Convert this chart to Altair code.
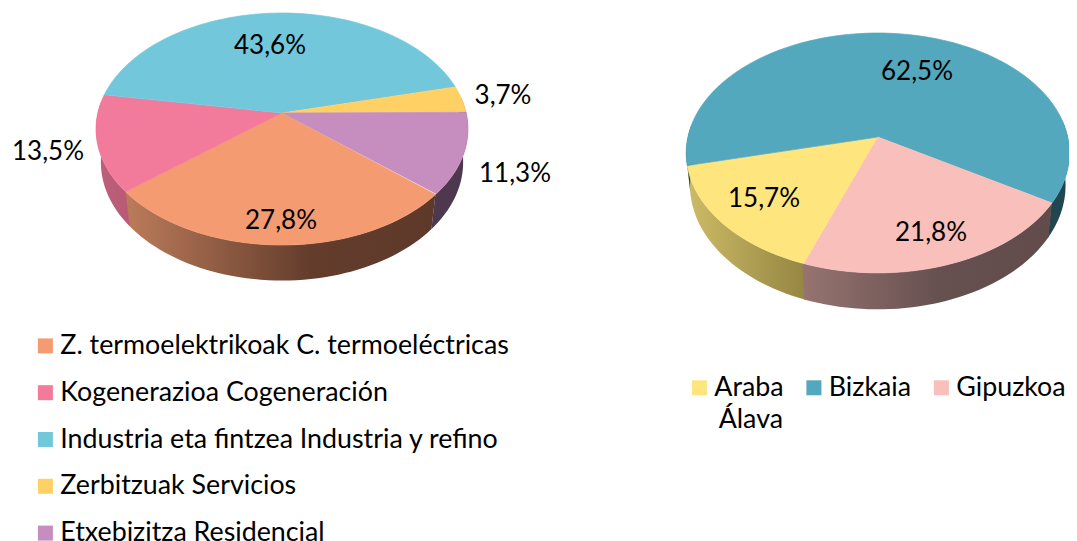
import math
import altair as alt
import pandas as pd

# ---- chart values ----
left_names = ["Z. termoelektrikoak C. termoeléctricas", "Kogenerazioa Cogeneración",
              "Industria eta fintzea Industria y refino", "Zerbitzuak Servicios", "Etxebizitza Residencial"]
left_values = [27.8, 13.5, 43.6, 3.7, 11.3]
left_text = ["27,8%", "13,5%", "43,6%", "3,7%", "11,3%"]
left_colors = ["#F49B72", "#F27A9B", "#72C7DA", "#FFD064", "#C58EBF"]

right_names = ["Araba Álava", "Bizkaia", "Gipuzkoa"]
right_values = [15.7, 62.5, 21.8]
right_text = ["15,7%", "62,5%", "21,8%"]
right_colors = ["#FFE57D", "#53A8BD", "#F8BFBB"]

# ---- layout (reference pixels) ----
W, H = 1061, 533
FONT = "Lato"
left_geo = dict(ax=282, ay=113, A=184.2, B=113.8, k=0.138, s=0.974, d0=33.0, d1=35.5, start=130.7)
right_geo = dict(ax=877.8, ay=137, A=189.9, B=117.8, k=0.133, s=0.98, d0=32.0, d1=36.5, start=199.9)
left_label_xy = [(281, 221), (48, 152), (270, 46), (503, 96), (515, 174)]
right_label_xy = [(764, 199), (917, 72), (931, 233)]
left_sides = [
    [(0, "#BC7C5B"), (0.6, "#633C2C"), (1, "#5E392A")],
    [(0, "#BE5F7C"), (1, "#B85A76")],
    None,
    [(0, "#4E384E"), (1, "#4E384E")],
    [(0, "#4E384E"), (1, "#4E384E")],
]
right_sides = [
    [(0, "#CDBB66"), (1, "#958642")],
    [(0, "#214650"), (1, "#214650")],
    [(0, "#967470"), (0.55, "#665050"), (1, "#614C4B")],
]

XS = alt.Scale(domain=[8, 8 + W], range=[0, W], nice=False, zero=False)
YS = alt.Scale(domain=[8 + H, 8], range=[H, 0], nice=False, zero=False)


def rim(theta_deg, g, bottom=False):
    t = math.radians(theta_deg)
    u, v = math.cos(t), math.sin(t)
    w = 1 - g["k"] * v
    x = g["A"] * u / w
    y = g["ay"] + g["B"] * v / w
    if not bottom:
        return g["ax"] + x, y
    top_span = g["B"] / (1 - g["k"])
    d = g["d0"] + (g["d1"] - g["d0"]) * max(0.0, (y - g["ay"]) / top_span)
    return g["ax"] + x * g["s"], y + d


def steps(a, b):
    n = max(2, int(abs(b - a) / 2) + 2)
    return [a + (b - a) * i / (n - 1) for i in range(n)]


def pie(names, values, colors, geo, side_stops, label_xy, labels, legend):
    top_rows, side_layers = [], []
    angle = geo["start"] - 90
    for name, value, stops in zip(names, values, side_stops):
        end = angle + value * 3.6
        pts = [(geo["ax"], geo["ay"])] + [rim(t, geo) for t in steps(angle, end)]
        top_rows += [dict(name=name, x=p[0], y=p[1], o=i) for i, p in enumerate(pts)]
        # visible parts of the side wall
        for shift in (-360, 0, 360):
            lo, hi = max(angle + shift, -8), min(end + shift + 0.4, 186)
            if hi <= lo or not stops:
                continue
            wall = [rim(t, geo) for t in steps(lo, hi)] + [rim(t, geo, True) for t in steps(hi, lo)]
            side = pd.DataFrame([dict(x=p[0], y=p[1], o=i) for i, p in enumerate(wall)])
            grad = alt.LinearGradient(gradient="linear", x1=0, x2=1, y1=0, y2=0,
                                      stops=[alt.GradientStop(offset=o, color=c) for o, c in stops])
            side_layers.append(
                alt.Chart(side).mark_line(fill=grad, strokeWidth=0, strokeOpacity=0, interpolate="linear").encode(
                    x=alt.X("x:Q", scale=XS, axis=None),
                    y=alt.Y("y:Q", scale=YS, axis=None),
                    order="o:Q",
                )
            )
        angle = end
    color_scale = alt.Scale(domain=names, range=colors)
    tops = alt.Chart(pd.DataFrame(top_rows)).mark_line(strokeWidth=0.7, interpolate="linear").encode(
        x=alt.X("x:Q", scale=XS, axis=None),
        y=alt.Y("y:Q", scale=YS, axis=None),
        order="o:Q",
        fill=alt.Fill("name:N", scale=color_scale, sort=None, legend=legend),
        stroke=alt.Stroke("name:N", scale=color_scale, sort=None, legend=None),
    )
    text = alt.Chart(pd.DataFrame([dict(x=p[0], y=p[1], t=t) for p, t in zip(label_xy, labels)])).mark_text(
        font=FONT, fontSize=LABEL_SIZE, color="black", align="center", baseline="middle"
    ).encode(
        x=alt.X("x:Q", scale=XS, axis=None),
        y=alt.Y("y:Q", scale=YS, axis=None),
        text="t:N",
    )
    return alt.layer(*side_layers, tops, text)


LABEL_SIZE = 26
LEGEND_SIZE = 26.8
LEG = dict(title=None, orient="none", symbolType="square", symbolSize=225, symbolStrokeWidth=0,
           labelFont=FONT, labelFontSize=LEGEND_SIZE, labelColor="black", labelLimit=600, labelOffset=1.5, padding=0)

left_legend = alt.Legend(legendX=24, legendY=324.5, columns=1, rowPadding=18.8, **LEG)
right_legend = alt.Legend(legendX=678, legendY=366, columns=3, columnPadding=16.5,
                          labelExpr="split(datum.label,' ')[0]", **LEG)

left = pie(left_names, left_values, left_colors, left_geo, left_sides, left_label_xy, left_text, left_legend)
right = pie(right_names, right_values, right_colors, right_geo, right_sides, right_label_xy, right_text, right_legend)

second_line = alt.Chart(pd.DataFrame([dict(x=783, y=420, t=right_names[0].split(" ")[1])])).mark_text(
    font=FONT, fontSize=LEGEND_SIZE, color="black", align="right", baseline="middle"
).encode(x=alt.X("x:Q", scale=XS, axis=None), y=alt.Y("y:Q", scale=YS, axis=None), text="t:N")

chart = alt.layer(left, right, second_line).resolve_scale(fill="independent", stroke="independent").properties(
    width=W, height=H, padding=0, autosize=alt.AutoSizeParams(type="none")
).configure_view(stroke=None)

chart.save("out.html", embed_options={"renderer": "svg", "actions": False})
